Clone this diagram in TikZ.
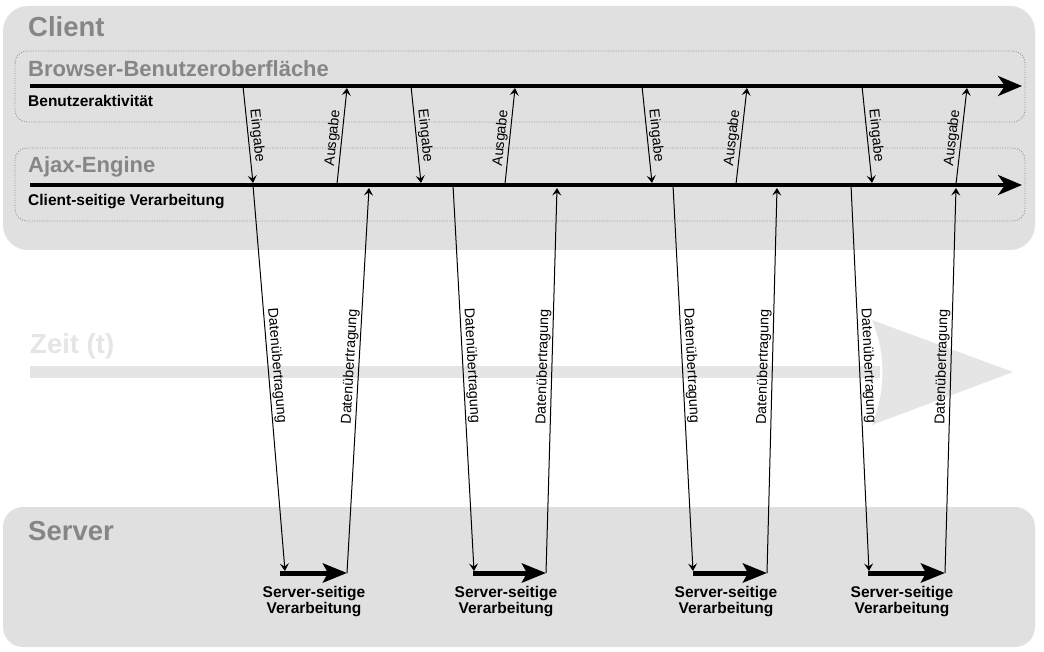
\documentclass[tikz,border=0pt]{standalone}
\usepackage{fontspec}
\setmainfont{Liberation Sans}
\usetikzlibrary{arrows.meta}
\definecolor{boxgray}{HTML}{E0E0E0}
\definecolor{titlegray}{HTML}{868686}
\definecolor{dotgray}{HTML}{959595}
\definecolor{timegray}{HTML}{E5E5E5}
\tikzset{
  bigbox/.style={fill=boxgray, draw=none},
  lanebox/.style={draw=dotgray, line width=0.9pt, dash pattern=on 1pt off 1.5pt, rounded corners=12pt},
  hdr/.style={anchor=base west, inner sep=0pt, text=titlegray, font=\fontsize{27.5}{30}\selectfont\bfseries},
  subhdr/.style={anchor=base west, inner sep=0pt, text=titlegray, font=\fontsize{22}{24}\selectfont\bfseries},
  lanelbl/.style={anchor=base west, inner sep=0pt, font=\fontsize{15.5}{17}\selectfont\bfseries},
  timeline/.style={line width=4pt, -{Stealth[length=24pt,width=20pt,inset=7pt]}},
  srvarrow/.style={line width=5pt, -{Stealth[length=24pt,width=19pt,inset=5pt]}},
  msg/.style={line width=1pt, -{Stealth[length=7.5pt,width=9pt,inset=3pt]}},
  lbl/.style={sloped, above, inner sep=1.5pt, font=\fontsize{14.3}{16}\selectfont},
  srvlbl/.style={anchor=north, inner sep=0pt, align=center, font=\fontsize{15.5}{16}\selectfont\bfseries},
}
\begin{document}
\begin{tikzpicture}[x=1pt,y=-1pt]
\useasboundingbox (0,0) rectangle (1044,652);
% big boxes
\path[bigbox, rounded corners=25pt] (3,6) rectangle (1035,250);
\path[bigbox, rounded corners=20pt] (3,507) rectangle (1035,647);
\draw[lanebox] (15,51) rectangle (1025,122);
\draw[lanebox] (15,148) rectangle (1025,221);
% titles
\node[hdr] (client) at (28,37) {Client};
\node[subhdr] (browser) at (28,77) {Browser-Benutzeroberfläche};
\node[lanelbl] (aktiv) at (28,107) {Benutzeraktivität};
\node[subhdr] (ajax) at (28,173) {Ajax-Engine};
\node[lanelbl] (clientv) at (28,206) {Client-seitige Verarbeitung};
\node[hdr] (server) at (28,540) {Server};
% time arrow
\node[hdr, text=timegray] (zeit) at (30,353) {Zeit (t)};
\fill[timegray] (30,366) rectangle (880,378);
\fill[timegray] (872,320) -- (1013,372) -- (872,425) .. controls (886,390) and (886,354) .. (872,320);
% timelines
\coordinate (t1s) at (30,86); \coordinate (t1e) at (1022,86);
\coordinate (t2s) at (30,185); \coordinate (t2e) at (1022,185);
\draw[timeline] (t1s) -- (t1e);
\draw[timeline] (t2s) -- (t2e);
% groups
\foreach \n/\ea/\eb/\aa/\ab/\da/\db/\sa/\sb/\ua/\lx in {
  1/243/253/337/347/253/285/280/347/369/314,
  2/411/421/505/515/453/474/473/546/557/506,
  3/642/652/736/747/673/693/693/767/777/726,
  4/862/872/956/967/851/869/868/945/956/902}{
  \coordinate (e\n a) at (\ea,86);  \coordinate (e\n b) at (\eb,183);
  \coordinate (a\n a) at (\aa,184); \coordinate (a\n b) at (\ab,88);
  \coordinate (d\n a) at (\da,185); \coordinate (d\n b) at (\db,571);
  \coordinate (s\n a) at (\sa,573); \coordinate (s\n b) at (\sb,573);
  \coordinate (u\n b) at (\ua,188);
  \draw[msg] (e\n a) -- node[lbl, pos=0.52] {Eingabe} (e\n b);
  \draw[msg] (a\n a) -- node[lbl, pos=0.47] {Ausgabe} (a\n b);
  \draw[msg] (d\n a) -- node[lbl, pos=0.47] {Datenübertragung} (d\n b);
  \draw[srvarrow] (s\n a) -- (s\n b);
  \draw[msg] (s\n b) -- node[lbl, pos=0.535] {Datenübertragung} (u\n b);
  \node[srvlbl] (sl\n) at (\lx,586) {Server-seitige\\Verarbeitung};
}
\end{tikzpicture}
\end{document}
